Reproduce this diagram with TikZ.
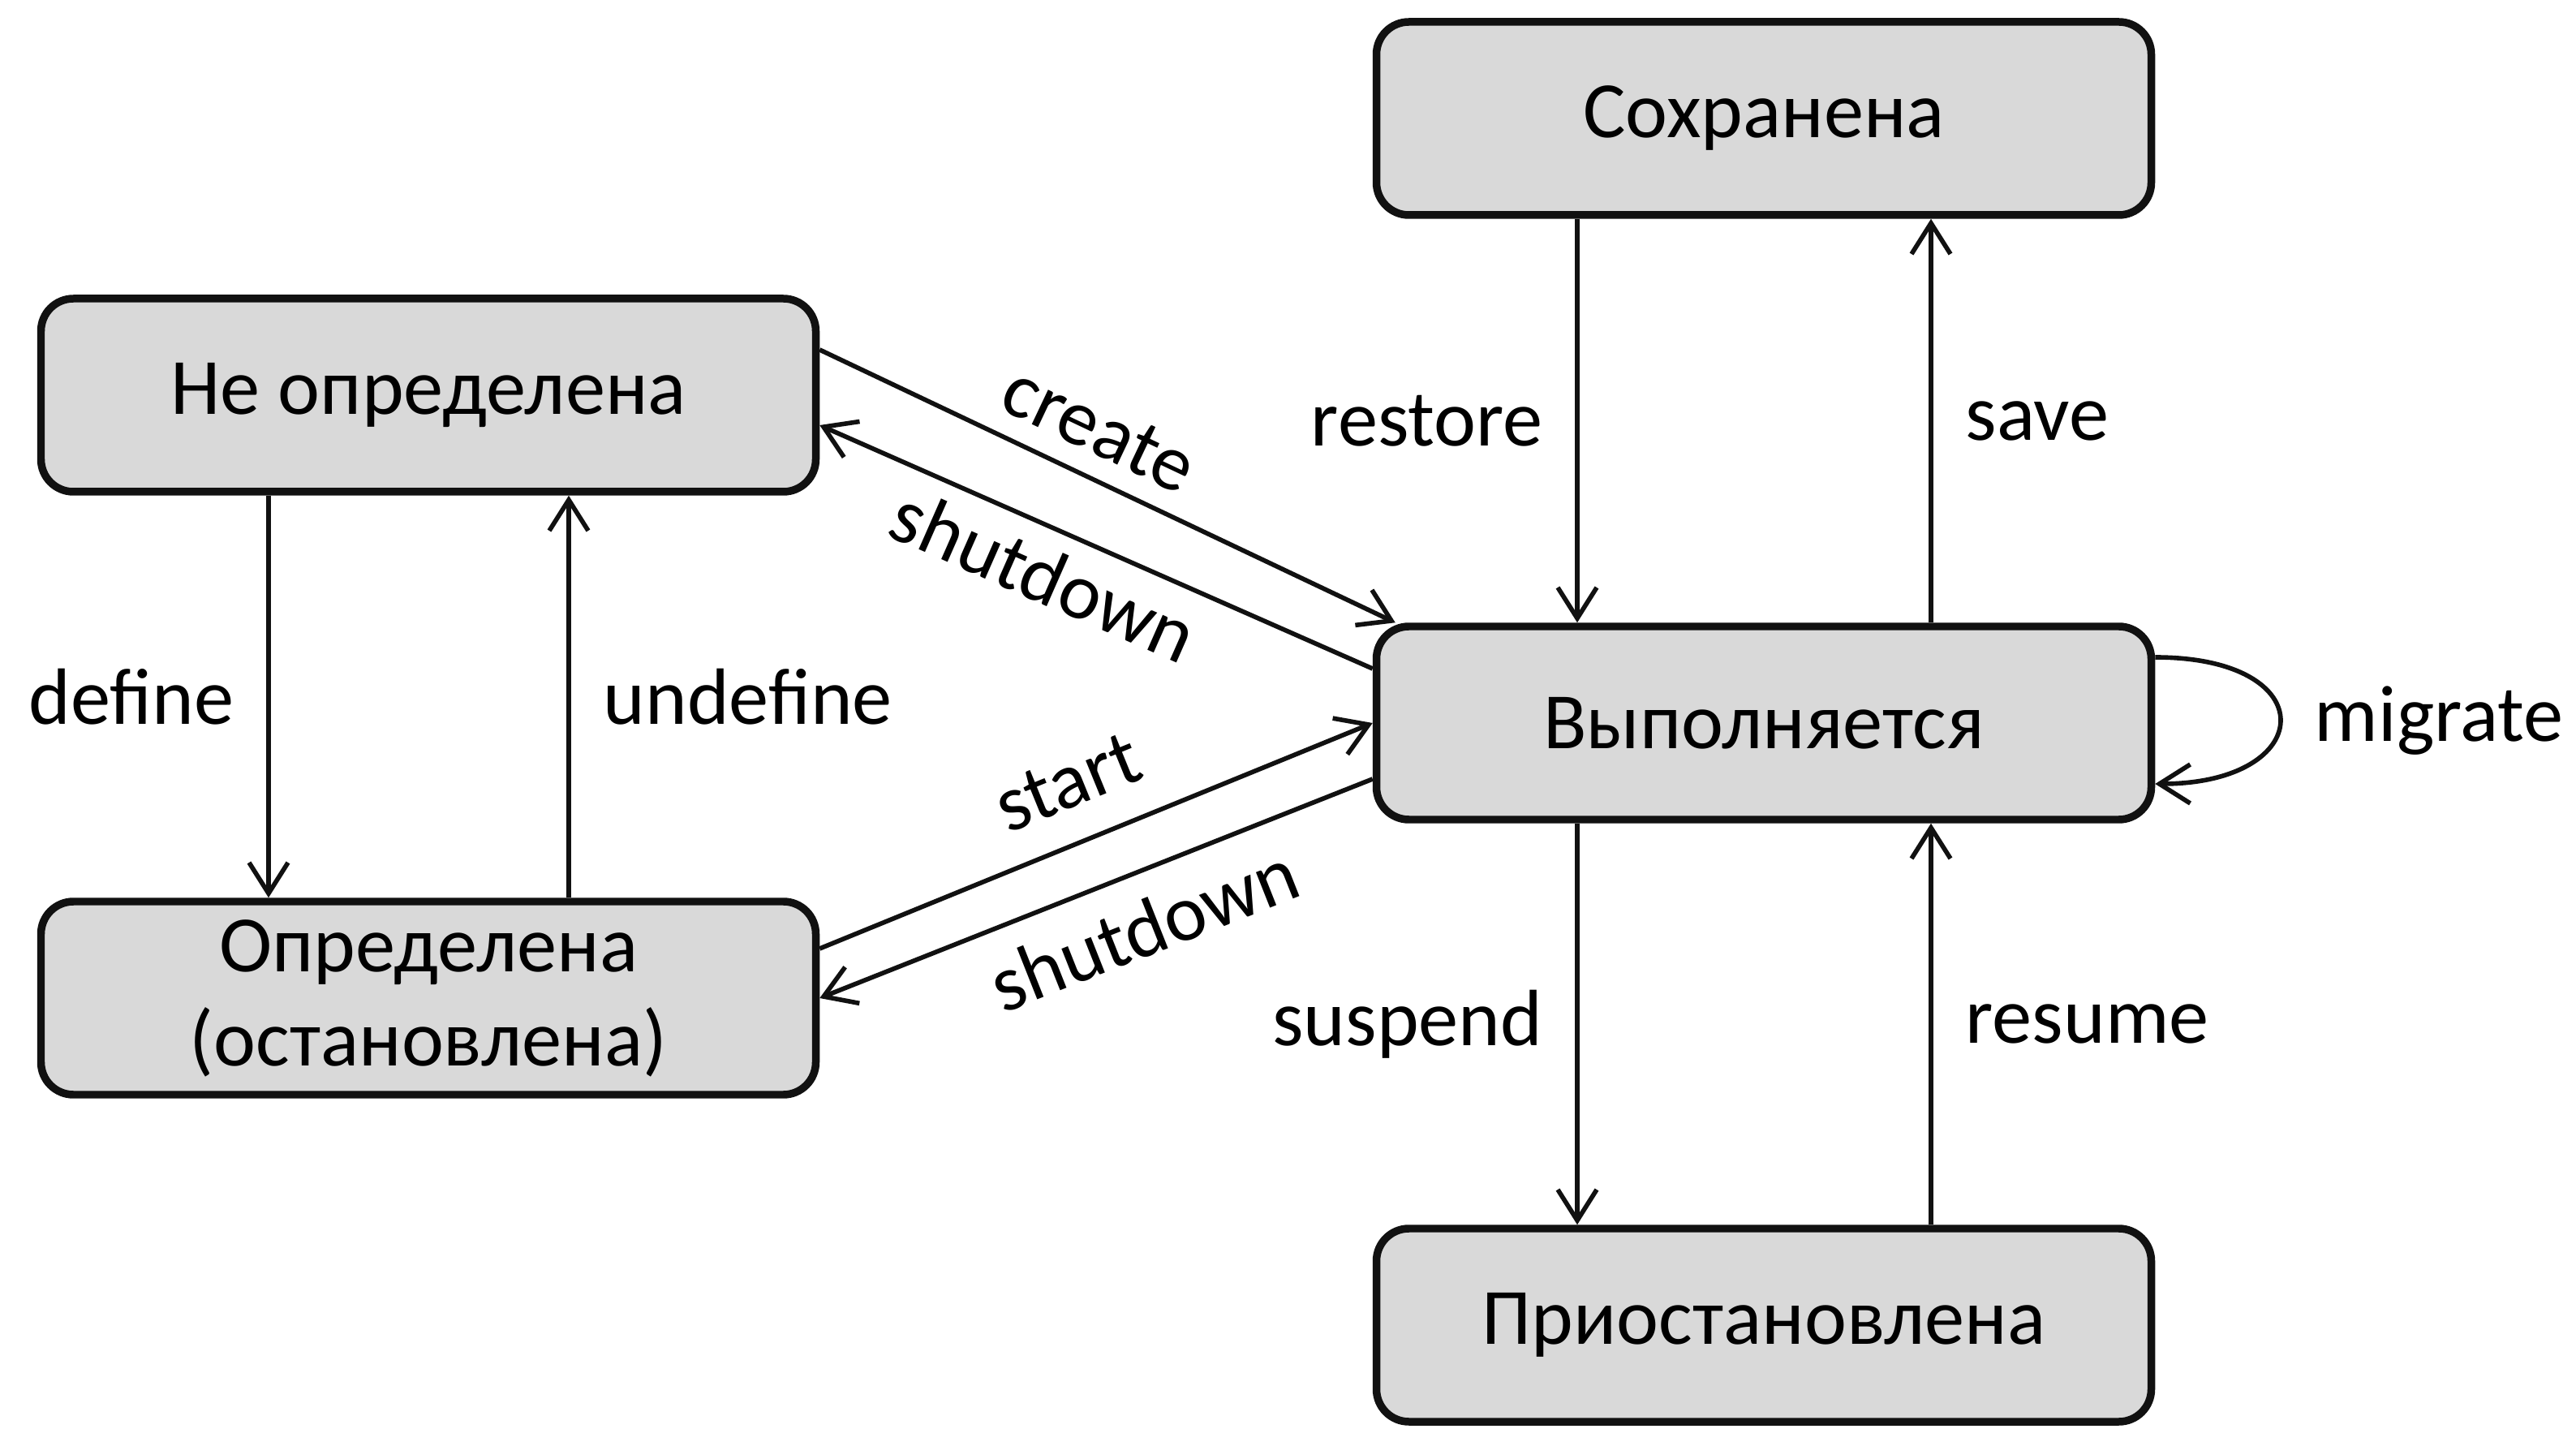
\documentclass[tikz,border=0pt]{standalone}
\usepackage{fontspec}
\setmainfont{Carlito}
\usetikzlibrary{arrows.meta}
\definecolor{boxgray}{HTML}{D9D9D9}
\definecolor{inkblack}{HTML}{111111}
\begin{document}
\begin{tikzpicture}[
    font=\fontsize{28}{33}\selectfont,
    >={Straight Barb[length=3.8mm,width=4.8mm]},
    state/.style = {shape=rectangle, draw=inkblack, fill=boxgray,
      line width=2.7pt, rounded corners=4mm, align=center,
      minimum width=9.55cm, minimum height=2.38cm},
    trans/.style = {->, draw=inkblack, line width=1.6pt},
    lbl/.style = {inner sep=0pt, text=black}]
    \useasboundingbox (0,0) rectangle (31.75,17.6);
    % states
    \node[state] (saved)   at (21.74,16.14) {Сохранена};
    \node[state] (undef)   at (5.28,12.73)  {Не определена};
    \node[state] (running) at (21.74,8.69)  {Выполняется};
    \node[state] (defined) at (5.28,5.30)   {Определена\\(остановлена)};
    \node[state] (paused)  at (21.74,1.27)  {Приостановлена};
    % transitions
    \draw[trans] ([xshift=-2.3cm]saved.south) -- node[lbl,midway,left=4mm] {restore} ([xshift=-2.3cm]running.north);
    \draw[trans] ([xshift=2.06cm]running.north) -- node[lbl,midway,right=4mm] {save} ([xshift=2.06cm]saved.south);
    \draw[trans] ([xshift=-2.3cm]running.south) -- node[lbl,midway,left=4mm] {suspend} ([xshift=-2.3cm]paused.north);
    \draw[trans] ([xshift=2.06cm]paused.north) -- node[lbl,midway,right=4mm] {resume} ([xshift=2.06cm]running.south);
    \draw[trans] ([xshift=-1.97cm]undef.south) -- node[lbl,midway,left=4mm] {define} ([xshift=-1.97cm]defined.north);
    \draw[trans] ([xshift=1.73cm]defined.north) -- node[lbl,midway,right=4mm] {undefine} ([xshift=1.73cm]undef.south);
    \draw[trans] ([yshift=5.6mm]undef.east) -- node[lbl,pos=.45,sloped,above=2.5mm] {create} ([xshift=2.8mm]running.north west);
    \draw[trans] ([yshift=6.7mm]running.west) -- node[lbl,pos=.56,sloped,below=2mm] {shutdown} ([yshift=-3.7mm]undef.east);
    \draw[trans] ([yshift=6.1mm]defined.east) -- node[lbl,pos=.49,sloped,above=4mm] {start} (running.west);
    \draw[trans] ([yshift=-6.9mm]running.west) -- node[lbl,pos=.45,sloped,below=3mm] {shutdown} (defined.east);
    \draw[trans] ([yshift=8.1mm]running.east) .. controls +(2.1,0) and +(2.0,0) .. node[lbl,pos=.5,right=4mm] {migrate} ([yshift=-7.5mm]running.east);
\end{tikzpicture}
\end{document}
